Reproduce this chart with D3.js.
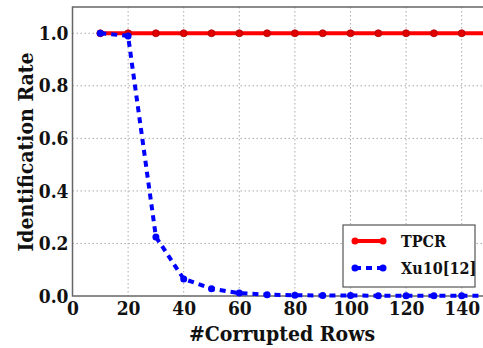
<!DOCTYPE html>
<html>
<head>
<meta charset="utf-8">
<script src="https://cdn.jsdelivr.net/npm/d3@7"></script>
<style>
  body { margin: 0; background: #fff; }
  svg { display: block; }
</style>
</head>
<body>
<svg width="483" height="348"></svg>
<script>
// data
const rows = [10, 20, 30, 40, 50, 60, 70, 80, 90, 100, 110, 120, 130, 140, 150];
const tpcr = [1, 1, 1, 1, 1, 1, 1, 1, 1, 1, 1, 1, 1, 1, 1];
const xu10 = [1.0, 0.99, 0.225, 0.065, 0.028, 0.011, 0.005, 0.003, 0.002, 0.002, 0.001, 0.001, 0.001, 0.001, 0.001];
const xTicks = [0, 20, 40, 60, 80, 100, 120, 140];
const yTicks = [0.0, 0.2, 0.4, 0.6, 0.8, 1.0];
const seriesNames = ["TPCR", "Xu10[12]"];

const FONT = '"DejaVu Serif Condensed"';
const svg = d3.select("svg");
const plotLeft = 72.5, plotTop = 7, plotBottom = 296;
const plotRight = plotLeft + 150 * 2.78; // plot runs past the window edge

const x = d3.scaleLinear().domain([0, 150]).range([plotLeft, plotRight]);
const y = d3.scaleLinear().domain([0, 1.1]).range([plotBottom, plotTop]);

function styleText(sel, size) {
    sel.style("font-family", FONT).style("font-weight", "bold").style("font-size", size + "px").style("fill", "#111");
}

// grid
const grid = svg.append("g").attr("stroke", "#aaa").attr("stroke-width", 1).attr("stroke-dasharray", "1.5,2.5");
grid.selectAll(".gx").data(xTicks.slice(1)).enter().append("line")
    .attr("x1", d => x(d)).attr("x2", d => x(d)).attr("y1", plotTop).attr("y2", plotBottom);
grid.selectAll(".gy").data(yTicks.slice(1)).enter().append("line")
    .attr("x1", plotLeft).attr("x2", plotRight).attr("y1", d => y(d)).attr("y2", d => y(d));

// frame
svg.append("rect").attr("x", plotLeft).attr("y", plotTop).attr("width", plotRight - plotLeft).attr("height", plotBottom - plotTop)
    .attr("fill", "none").attr("stroke", "#666").attr("stroke-width", 1.5);

// axes
const xAxis = svg.append("g").attr("transform", `translate(0,${plotBottom})`)
    .call(d3.axisBottom(x).tickValues(xTicks).tickSize(0).tickPadding(6).tickFormat(d3.format("d")));
xAxis.select(".domain").remove();
styleText(xAxis.selectAll("text"), 19);

const yAxis = svg.append("g").attr("transform", `translate(${plotLeft},0)`)
    .call(d3.axisLeft(y).tickValues(yTicks).tickSize(0).tickPadding(4).tickFormat(d3.format(".1f")));
yAxis.select(".domain").remove();
styleText(yAxis.selectAll("text"), 19);

// axis titles
styleText(svg.append("text").attr("x", 282).attr("y", 341).attr("text-anchor", "middle")
    .text("#Corrupted Rows"), 21);
styleText(svg.append("text").attr("transform", "translate(33,152) rotate(-90)").attr("text-anchor", "middle")
    .text("Identification Rate"), 21);

// series
const line = d3.line().x((d, i) => x(rows[i])).y(d => y(d));
const plot = svg.append("g");

plot.append("path").datum(tpcr).attr("d", line).attr("fill", "none")
    .attr("stroke", "#ff0000").attr("stroke-width", 4);
plot.selectAll(".mt").data(tpcr).enter().append("circle")
    .attr("cx", (d, i) => x(rows[i])).attr("cy", d => y(d)).attr("r", 3.5)
    .attr("fill", "#e00000").attr("stroke", "#b00000").attr("stroke-width", 0.8);

plot.append("path").datum(xu10).attr("d", line).attr("fill", "none")
    .attr("stroke", "#0000ff").attr("stroke-width", 4).attr("stroke-dasharray", "6,5");
plot.selectAll(".mx").data(xu10).enter().append("circle")
    .attr("cx", (d, i) => x(rows[i])).attr("cy", d => y(d)).attr("r", 3.5)
    .attr("fill", "#0000ff");

// legend
const lg = svg.append("g").attr("transform", "translate(343,225)");
lg.append("rect").attr("width", 132).attr("height", 62).attr("fill", "#fff")
    .attr("stroke", "#555").attr("stroke-width", 1.2);
const colors = ["#ff0000", "#0000ff"];
const dashes = [null, "6,5"];
seriesNames.forEach((name, i) => {
    const cy = 16 + i * 27;
    lg.append("line").attr("x1", 12).attr("x2", 40).attr("y1", cy).attr("y2", cy)
        .attr("stroke", colors[i]).attr("stroke-width", 4).attr("stroke-dasharray", dashes[i]);
    [12, 40].forEach(cx => lg.append("circle").attr("cx", cx).attr("cy", cy).attr("r", 3.5).attr("fill", colors[i]));
    styleText(lg.append("text").attr("x", 58).attr("y", cy + 6).text(name), 16);
});
</script>
</body>
</html>
